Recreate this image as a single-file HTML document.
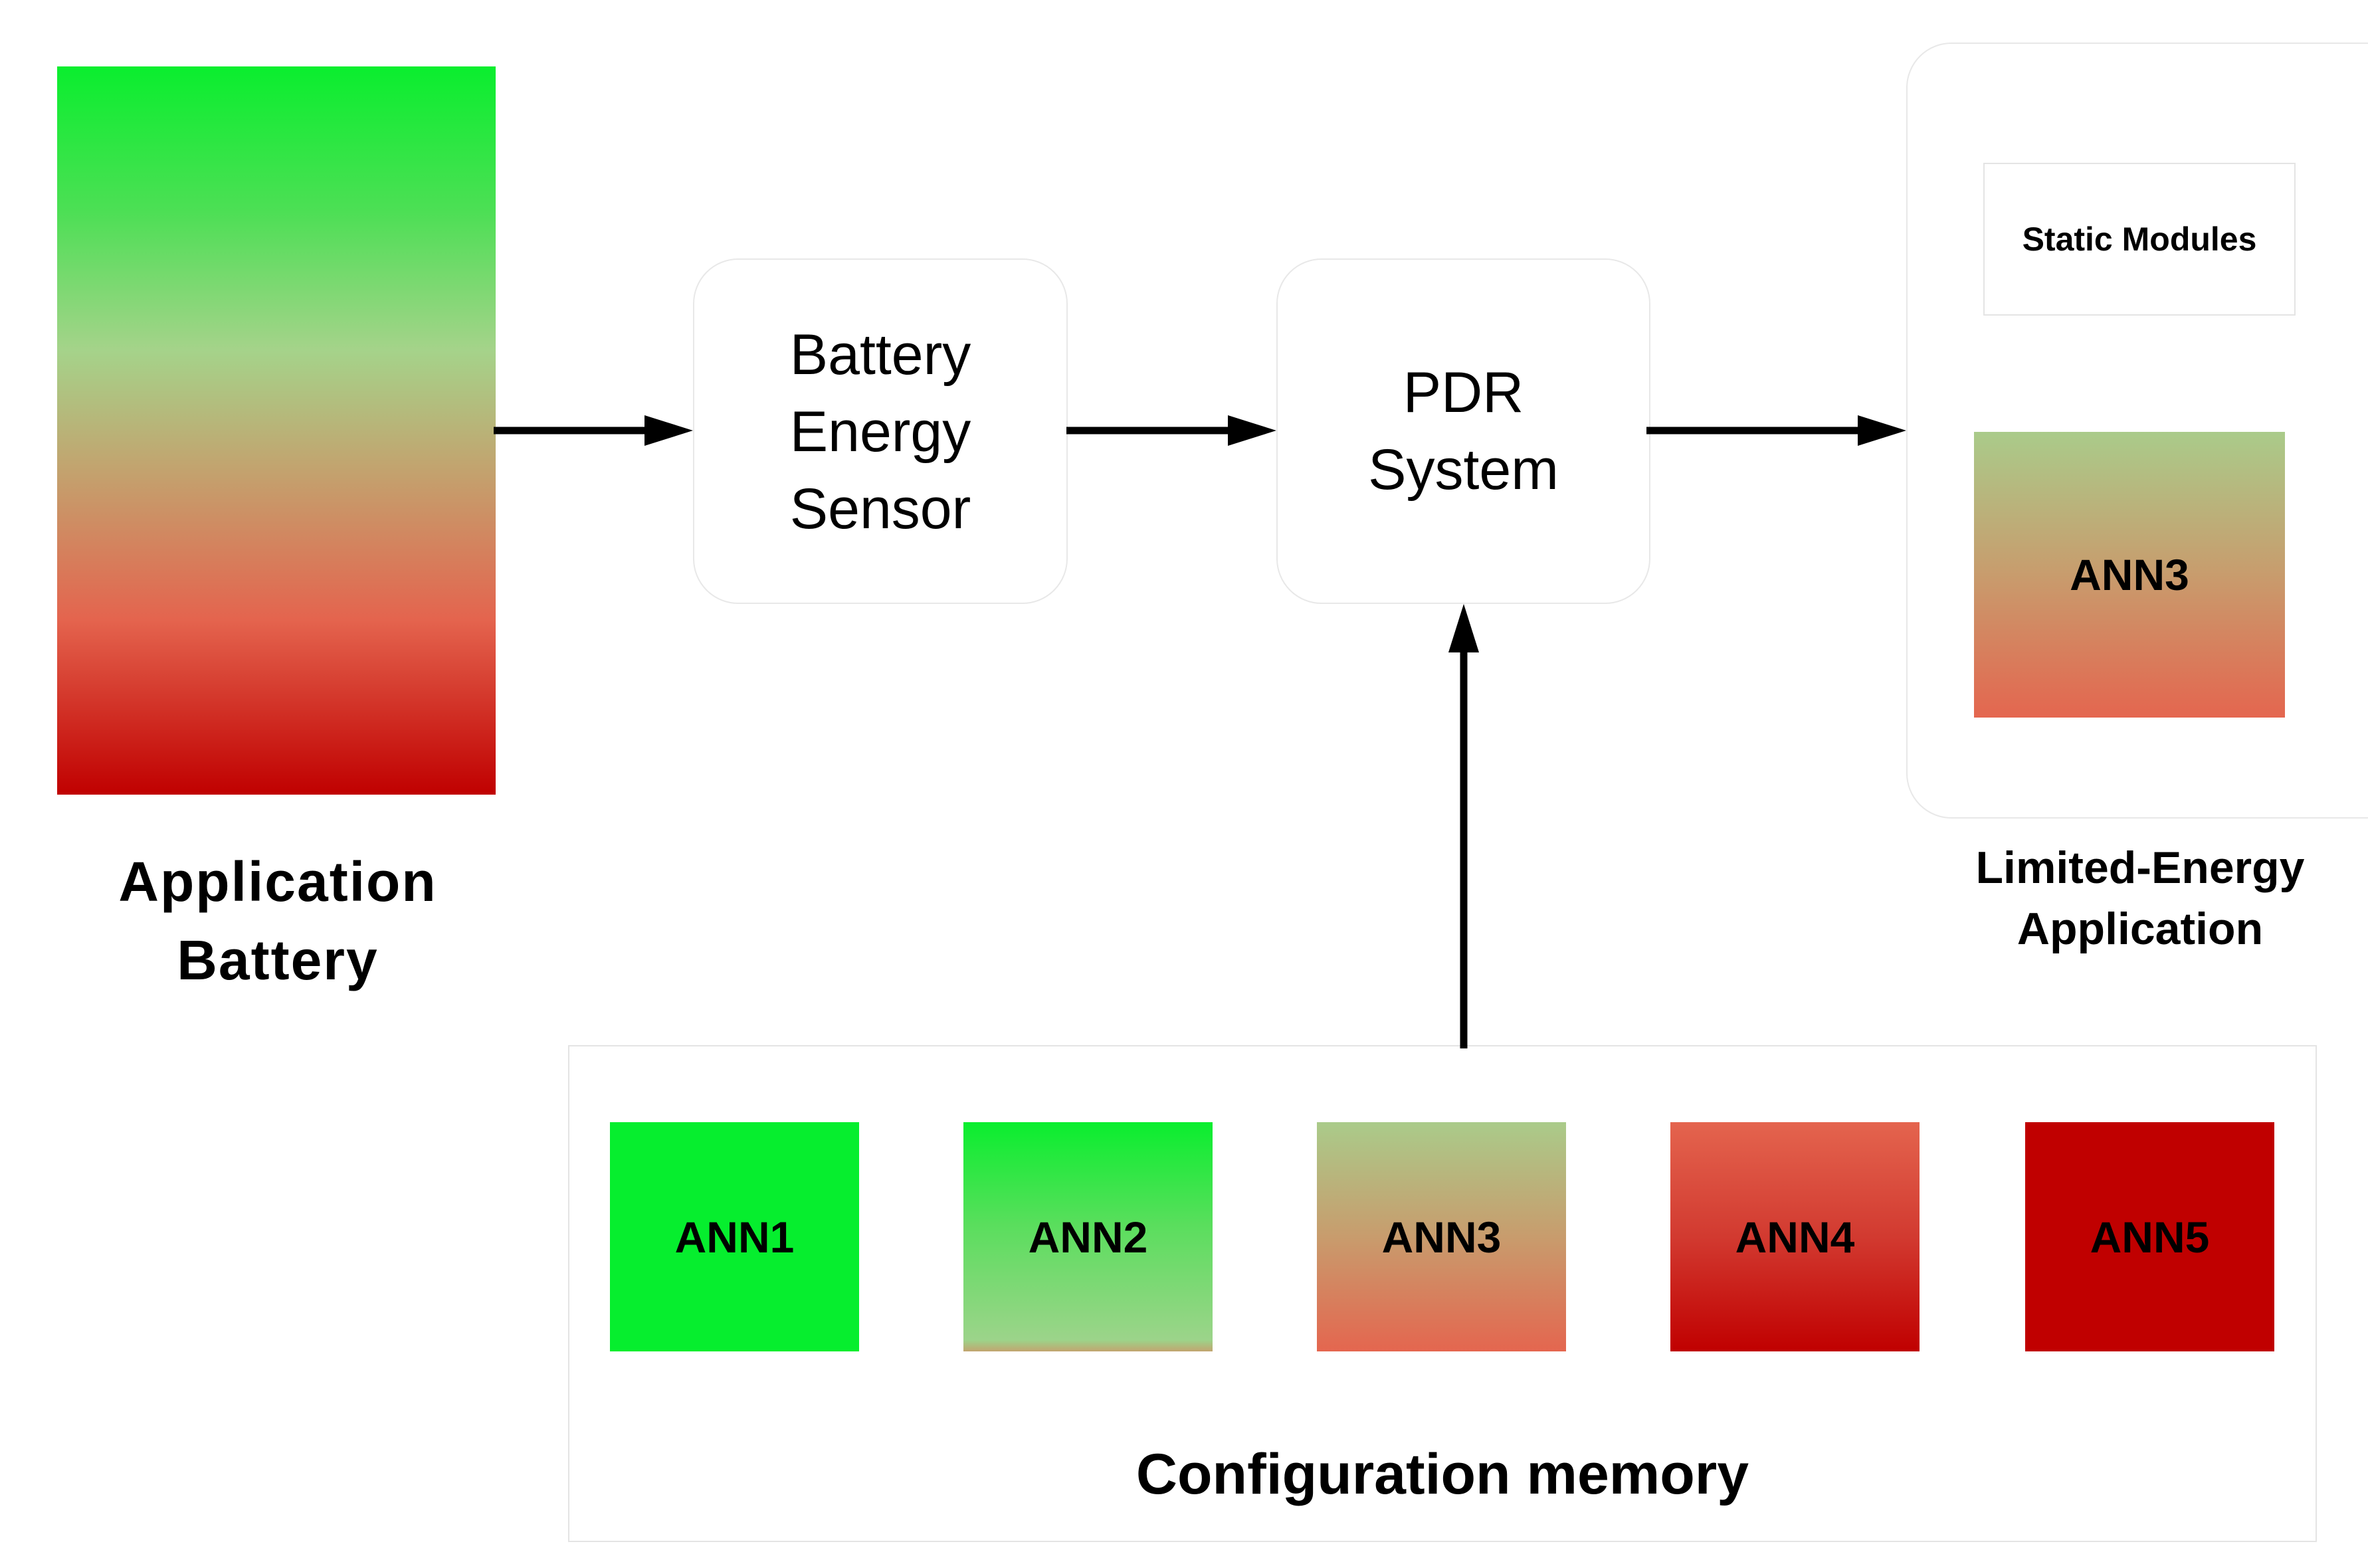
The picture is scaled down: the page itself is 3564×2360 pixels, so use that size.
<!DOCTYPE html>
<html><head><meta charset="utf-8"><style>
html,body{margin:0;padding:0;background:#fff;}
body{width:3564px;height:2360px;position:relative;overflow:hidden;font-family:"Liberation Sans",sans-serif;}
.a{position:absolute;box-sizing:border-box;}
.t{position:absolute;text-align:center;color:#000;white-space:nowrap;}
.ann{display:flex;align-items:center;justify-content:center;font-weight:bold;font-size:66px;color:#000;}
</style></head><body>
<div class="a" style="left:86px;top:100px;width:660px;height:1096px;background:linear-gradient(to bottom,#0aee2e 0%,#4ddf55 20%,#a5d38a 39%,#c2a46f 55%,#e4644e 76%,#c00000 100%);"></div>
<div class="t" style="left:118px;width:600px;top:1268px;font-size:84px;font-weight:bold;line-height:118px;letter-spacing:2px;">Application<br>Battery</div>

<div class="a" style="left:1043px;top:389px;width:564px;height:520px;border:2px solid #e8e8e8;border-radius:68px;"></div>
<div class="t" style="left:1043px;width:564px;top:476px;font-size:86px;line-height:116px;">Battery<br>Energy<br>Sensor</div>

<div class="a" style="left:1921px;top:389px;width:563px;height:520px;border:2px solid #e8e8e8;border-radius:68px;"></div>
<div class="t" style="left:1921px;width:563px;top:533px;font-size:86px;line-height:116px;">PDR<br>System</div>

<div class="a" style="left:2869px;top:64px;width:760px;height:1168px;border:2px solid #e8e8e8;border-radius:68px;"></div>
<div class="a" style="left:2985px;top:245px;width:470px;height:230px;border:2px solid #e4e4e4;display:flex;align-items:center;justify-content:center;font-weight:bold;font-size:50px;">Static Modules</div>
<div class="a ann" style="left:2971px;top:650px;width:468px;height:430px;background:linear-gradient(to bottom,#aacb8a 0%,#c89c6d 50%,#e4664f 100%);">ANN3</div>
<div class="t" style="left:2921px;width:600px;top:1260px;font-size:68px;font-weight:bold;line-height:92px;">Limited-Energy<br>Application</div>

<div class="a" style="left:855px;top:1573px;width:2632px;height:748px;border:2px solid #e4e4e4;"></div>
<div class="a ann" style="left:918px;top:1689px;width:375px;height:345px;background:#06ee2e;">ANN1</div>
<div class="a ann" style="left:1450px;top:1689px;width:375px;height:345px;background:linear-gradient(to bottom,#0aee2e 0%,#5ade5d 45%,#9cd48a 95%,#c2a46f 100%);">ANN2</div>
<div class="a ann" style="left:1982px;top:1689px;width:375px;height:345px;background:linear-gradient(to bottom,#aacb8a 0%,#c89c6d 50%,#e4664f 100%);">ANN3</div>
<div class="a ann" style="left:2514px;top:1689px;width:375px;height:345px;background:linear-gradient(to bottom,#e4644e 0%,#d23a30 50%,#c00000 100%);">ANN4</div>
<div class="a ann" style="left:3048px;top:1689px;width:375px;height:345px;background:#c00000;">ANN5</div>
<div class="t" style="left:855px;width:2632px;top:2170px;font-size:86px;font-weight:bold;">Configuration memory</div>

<svg class="a" style="left:0;top:0" width="3564" height="2360">
<g stroke="#000" stroke-width="11" fill="none">
<line x1="743" y1="648" x2="985" y2="648"/>
<line x1="1605" y1="648" x2="1862" y2="648"/>
<line x1="2478" y1="648" x2="2810" y2="648"/>
<line x1="2203" y1="1578" x2="2203" y2="965"/>
</g>
<g fill="#000">
<polygon points="1043,648 970,625 970,671"/>
<polygon points="1921,648 1848,625 1848,671"/>
<polygon points="2869,648 2796,625 2796,671"/>
<polygon points="2203,909 2180,982 2226,982"/>
</g>
</svg>
</body></html>
